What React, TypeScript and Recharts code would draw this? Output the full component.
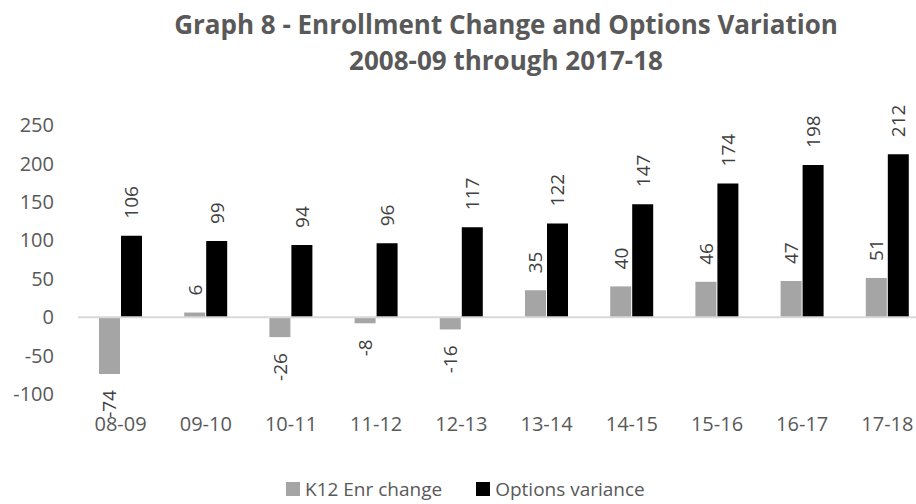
import React from 'react';
import { BarChart, Bar, XAxis, YAxis, ReferenceLine, LabelList } from 'recharts';

const YEARS = ['08-09','09-10','10-11','11-12','12-13','13-14','14-15','15-16','16-17','17-18'];
const K12_CHANGE = [-74,6,-26,-8,-16,35,40,46,47,51];
const OPTIONS_VAR = [106,99,94,96,117,122,147,174,198,212];
const Y_TICKS = [-100,-50,0,50,100,150,200,250];
const SERIES = [
  {key:'k12',name:'K12 Enr change',color:'#a5a5a5'},
  {key:'opt',name:'Options variance',color:'#000000'},
];
const TITLE = ['Graph 8 - Enrollment Change and Options Variation','2008-09 through 2017-18'];

const data = YEARS.map((y,i)=>({year:y,k12:K12_CHANGE[i],opt:OPTIONS_VAR[i]}));

const FONT = '"Open Sans", sans-serif';

const BarLabel = (p:any) => {
  const {x,y,width,height,value} = p;
  const top=Math.min(y,y+height), bottom=Math.max(y,y+height);
  const cx=x+width/2;
  const pos=Number(value)>=0;
  const ay=pos?top-17:bottom+16;
  return <text x={cx} y={ay} transform={`rotate(-90 ${cx} ${ay})`} textAnchor={pos?'start':'end'} dominantBaseline="central" fill="#404040" fontSize={19} fontFamily={FONT}>{value}</text>;
};

export default function App() {
  return (
    <div style={{position:'fixed',left:0,top:0,width:916,height:504,overflow:'hidden',background:'#fff',fontFamily:FONT}}>
      <div style={{position:'absolute',left:0,top:6,width:1012,textAlign:'center',fontSize:26,lineHeight:'36px',fontWeight:700,color:'#595959'}}>
        {TITLE.map(t=><div key={t}>{t}</div>)}
      </div>
      <BarChart width={930} height={504} data={data} margin={{top:125,right:0,bottom:80,left:0}} barCategoryGap={21} barGap={1}>
        <XAxis dataKey="year" axisLine={false} tickLine={false} tickSize={0} tickMargin={23} height={30} interval={0}
          tick={{fill:'#595959',fontSize:20,fontFamily:FONT}}/>
        <YAxis domain={[-100,250]} ticks={Y_TICKS} axisLine={false} tickLine={false} tickSize={0} tickMargin={24} width={78}
          tick={{fill:'#595959',fontSize:20,fontFamily:FONT}}/>
        <ReferenceLine y={0} stroke="#d9d9d9" strokeWidth={2}/>
        {SERIES.map(s=>(
          <Bar key={s.key} dataKey={s.key} name={s.name} fill={s.color} isAnimationActive={false}>
            <LabelList dataKey={s.key} content={BarLabel}/>
          </Bar>
        ))}
      </BarChart>
      <div style={{position:'absolute',left:286,top:476,display:'flex',alignItems:'center',fontSize:19,color:'#595959',whiteSpace:'nowrap'}}>
        {SERIES.map((s,i)=>(
          <div key={s.key} style={{display:'flex',alignItems:'center',marginLeft:i?34:0}}>
            <span style={{display:'inline-block',width:14,height:14,background:s.color,marginRight:5}}/>
            <span>{s.name}</span>
          </div>
        ))}
      </div>
    </div>
  );
}
